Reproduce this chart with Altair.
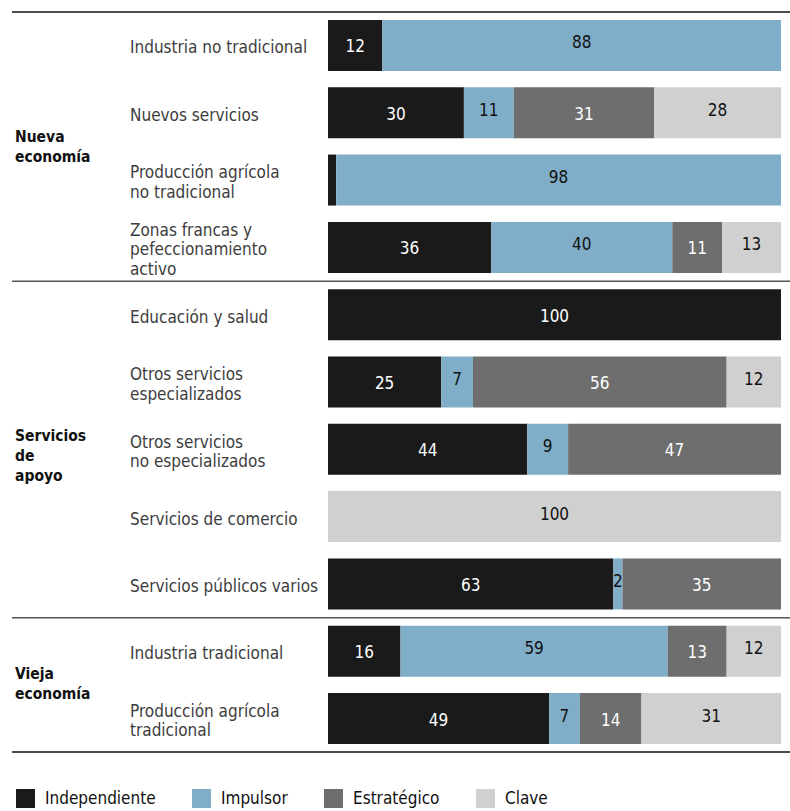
import altair as alt
import pandas as pd

FONT = "DejaVu Sans Condensed, Liberation Sans Narrow, sans-serif"

rows = [
    "Industria no tradicional",
    "Nuevos servicios",
    "Producción agrícola no tradicional",
    "Zonas francas y pefeccionamiento activo",
    "Educación y salud",
    "Otros servicios especializados",
    "Otros servicios no especializados",
    "Servicios de comercio",
    "Servicios públicos varios",
    "Industria tradicional",
    "Producción agrícola tradicional",
]
row_labels = [
    "Industria no tradicional",
    "Nuevos servicios",
    "Producción agrícola\nno tradicional",
    "Zonas francas y\npefeccionamiento\nactivo",
    "Educación y salud",
    "Otros servicios\nespecializados",
    "Otros servicios\nno especializados",
    "Servicios de comercio",
    "Servicios públicos varios",
    "Industria tradicional",
    "Producción agrícola\ntradicional",
]
categories = ["Independiente", "Impulsor", "Estratégico", "Clave"]
colors = ["#1a1a1a", "#80aec8", "#6e6e6e", "#d0d0d0"]

independiente = [12, 30, 1.8, 36, 100, 25, 44, 0, 63, 16, 48.8]
impulsor = [88, 11, 98.2, 40, 0, 7, 9, 0, 2, 59, 6.8]
estrategico = [0, 31, 0, 11, 0, 56, 47, 0, 35, 13, 13.6]
clave = [0, 28, 0, 13, 0, 12, 0, 100, 0, 12, 30.8]

groups = ["Nueva\neconomía", "Servicios\nde\napoyo", "Vieja\neconomía"]
group_anchor_rows = ["Nuevos servicios", "Otros servicios no especializados", "Industria tradicional"]
separator_rows = ["Zonas francas y pefeccionamiento activo", "Servicios públicos varios"]

series = [independiente, impulsor, estrategico, clave]
records = []
for i, r in enumerate(rows):
    for j, cat in enumerate(categories):
        records.append({"row": r, "cat": cat, "order": j, "value": series[j][i]})
df = pd.DataFrame(records)

H = 740
W = 453
FS = 17
LH = 19.5

yscale = alt.Scale(domain=rows, paddingInner=0.242, paddingOuter=0.118)
Y = alt.Y("row:N", scale=yscale, axis=None, sort=rows)

base = alt.Chart(df).transform_stack(
    stack="value", groupby=["row"], as_=["x0", "x1"], sort=[alt.SortField("order")]
).transform_calculate(
    mid="(datum.x0 + datum.x1) / 2",
    lbl="datum.value >= 2 ? '' + round(datum.value) : ''",
)

xscale = alt.Scale(domain=[0, 100], nice=False, zero=True)

bars = base.mark_bar(size=51, strokeWidth=0).encode(
    x=alt.X("x0:Q", scale=xscale, axis=None),
    x2="x1:Q",
    y=Y,
    color=alt.Color(
        "cat:N",
        scale=alt.Scale(domain=categories, range=colors),
        sort=categories,
        legend=alt.Legend(
            title=None,
            orient="none",
            legendX=-312,
            legendY=777,
            direction="horizontal",
            symbolType="square",
            symbolSize=360,
            symbolStrokeWidth=0,
            symbolOpacity=1,
            labelFont=FONT,
            labelFontSize=FS,
            labelColor="#111111",
            labelOffset=10,
            columnPadding=36,
            labelLimit=300,
        ),
    ),
)

light_text = base.transform_filter(
    "datum.cat == 'Independiente' || datum.cat == 'Estratégico'"
).mark_text(font=FONT, fontSize=FS, baseline="middle", align="center", color="#ffffff", dy=2).encode(
    x=alt.X("mid:Q", scale=xscale, axis=None), y=Y, text="lbl:N"
)
dark_text = base.transform_filter(
    "datum.cat == 'Impulsor' || datum.cat == 'Clave'"
).mark_text(font=FONT, fontSize=FS, baseline="middle", align="center", color="#111111", dy=-2).encode(
    x=alt.X("mid:Q", scale=xscale, axis=None), y=Y, text="lbl:N"
)

row_layers = []
for n in (1, 2, 3):
    sel_rows = [r for r, l in zip(rows, row_labels) if l.count("\n") + 1 == n]
    sel_labels = [l for l in row_labels if l.count("\n") + 1 == n]
    ldf = pd.DataFrame({"row": sel_rows, "text": sel_labels})
    row_layers.append(
        alt.Chart(ldf).mark_text(
            font=FONT, fontSize=FS, align="left", baseline="middle", lineBreak="\n",
            lineHeight=LH, color="#3d3d3d", dy=-(n - 1) * LH / 2 + 3,
        ).encode(x=alt.value(-198), y=Y, text="text:N")
    )

group_layers = []
group_dy = [24, -13, 23]
for g, anchor, dy in zip(groups, group_anchor_rows, group_dy):
    gdf = pd.DataFrame({"row": [anchor], "text": [g]})
    group_layers.append(
        alt.Chart(gdf).mark_text(
            font=FONT, fontSize=15.5, fontWeight="bold", align="left", baseline="middle",
            lineBreak="\n", lineHeight=20, color="#111111", dy=dy,
        ).encode(x=alt.value(-313), y=Y, text="text:N")
    )

sep_df = pd.DataFrame({"row": separator_rows})
separators = alt.Chart(sep_df).mark_rule(color="#555555", strokeWidth=1.5, yOffset=33.8).encode(
    y=Y, x=alt.value(-316), x2=alt.value(462)
)

frame_df = pd.DataFrame({"pos": ["top", "bottom"]})
top_line = alt.Chart(frame_df.iloc[:1]).mark_rule(color="#111111", strokeWidth=1.5).encode(
    y=alt.value(0), x=alt.value(-316), x2=alt.value(462)
)
bottom_line = alt.Chart(frame_df.iloc[1:]).mark_rule(color="#111111", strokeWidth=1.5).encode(
    y=alt.value(H), x=alt.value(-316), x2=alt.value(462)
)

chart = alt.layer(
    bars, light_text, dark_text, *row_layers, *group_layers, separators, top_line, bottom_line
).properties(
    width=W,
    height=H,
    background="white",
    autosize=alt.AutoSizeParams(type="none"),
    padding={"left": 328, "top": 12, "right": 9, "bottom": 59},
).configure_view(stroke=None)

chart.save("out.html", embed_options={"renderer": "svg", "actions": False})
